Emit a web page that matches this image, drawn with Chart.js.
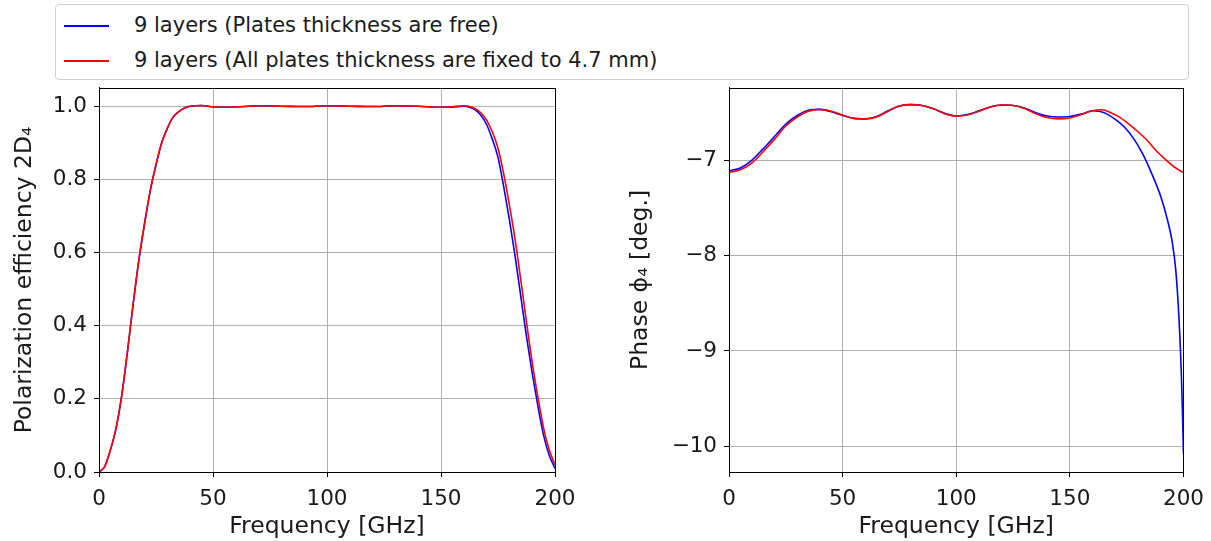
<!DOCTYPE html>
<html lang="en">
<head>
    <meta charset="UTF-8">
    <title>Polarization efficiency and phase</title>
    <style>
        body { margin: 0; background: #fff; font-family: "DejaVu Sans", sans-serif; }
        .wrap { position: relative; width: 1211px; height: 541px; overflow: hidden; }
        .legend { position: absolute; left: 55px; top: 4px; width: 1132px; height: 74px; border: 1px solid #d0d0d0; border-radius: 4px; }
        .legend .row { position: absolute; left: 0; height: 30px; font-size: 21px; color: #1a1a1a; }
        .legend .swatch { position: absolute; left: 8px; top: 14px; width: 45px; height: 0; border-top: 2px solid; }
        .legend .label { position: absolute; left: 78px; top: 2px; white-space: nowrap; }
        .box { position: absolute; top: 68px; height: 473px; }
    </style>
</head>
<body>
<div class="wrap">
    <div class="legend" id="legend"></div>
    <div class="box" style="left:0; width:600px;"><canvas id="eff"></canvas></div>
    <div class="box" style="left:610px; width:604px;"><canvas id="phase"></canvas></div>
</div>

<script src="https://cdn.jsdelivr.net/npm/chart.js@4.4.9/dist/chart.umd.min.js"></script>
<script>
    // series names
    const seriesNames = [
        '9 layers (Plates thickness are free)',
        '9 layers (All plates thickness are fixed to 4.7 mm)'
    ];
    const seriesColors = ['#0000ff', '#ff0000'];

    // polarization efficiency 2D4
    const effFreqFree = [0, 2.5, 5, 7.5, 10, 12.5, 15, 17.5, 20, 22.5, 25, 27.5, 30, 32.5, 35, 37.5, 40, 45, 50, 55, 60, 70, 80, 90, 100, 110, 120, 130, 140, 150, 155, 160, 162.5, 165, 167.5, 170, 172.5, 175, 177.5, 180, 182.5, 185, 187.5, 190, 192.5, 195, 197.5, 200];
    const effFree = [0, 0.015, 0.06, 0.12, 0.21, 0.33, 0.46, 0.58, 0.68, 0.77, 0.84, 0.90, 0.94, 0.97, 0.985, 0.995, 1.0, 1.002, 0.998, 0.997, 0.998, 1.001, 1.0, 0.999, 1.001, 1.0, 0.999, 1.001, 1.0, 0.997, 0.998, 1.0, 0.997, 0.99, 0.975, 0.95, 0.91, 0.86, 0.78, 0.69, 0.59, 0.48, 0.37, 0.27, 0.18, 0.10, 0.045, 0.01];
    const effFreqFixed = effFreqFree;
    const effFixed = [0, 0.015, 0.06, 0.12, 0.21, 0.33, 0.46, 0.58, 0.68, 0.77, 0.84, 0.90, 0.94, 0.97, 0.985, 0.995, 1.0, 1.002, 0.998, 0.997, 0.998, 1.001, 1.0, 0.999, 1.001, 1.0, 0.999, 1.001, 1.0, 0.997, 0.998, 1.001, 0.999, 0.993, 0.982, 0.962, 0.93, 0.885, 0.815, 0.73, 0.635, 0.525, 0.41, 0.30, 0.205, 0.12, 0.06, 0.02];

    // phase phi4 in degrees
    const phaseFreqFree = [0, 5, 10, 15, 20, 25, 30, 35, 40, 45, 50, 55, 60, 65, 70, 75, 80, 85, 90, 95, 100, 105, 110, 115, 120, 125, 130, 135, 140, 145, 150, 155, 160, 163, 166, 170, 174, 178, 182, 185.5, 190, 193, 195, 196.6, 198, 199, 199.5, 200];
    const phaseFree = [-7.11, -7.08, -7.00, -6.88, -6.75, -6.62, -6.53, -6.475, -6.465, -6.49, -6.53, -6.56, -6.565, -6.54, -6.48, -6.43, -6.415, -6.425, -6.46, -6.51, -6.535, -6.52, -6.48, -6.44, -6.42, -6.425, -6.45, -6.50, -6.535, -6.545, -6.54, -6.515, -6.48, -6.485, -6.51, -6.57, -6.65, -6.77, -6.93, -7.11, -7.38, -7.63, -7.85, -8.15, -8.65, -9.2, -9.6, -10.08];
    const phaseFreqFixed = [0, 5, 10, 15, 20, 25, 30, 35, 40, 45, 50, 55, 60, 65, 70, 75, 80, 85, 90, 95, 100, 105, 110, 115, 120, 125, 130, 135, 140, 145, 150, 155, 160, 164, 168, 172, 176, 180, 184, 188, 192, 196, 200];
    const phaseFixed = [-7.125, -7.10, -7.03, -6.91, -6.78, -6.64, -6.545, -6.485, -6.465, -6.485, -6.525, -6.56, -6.565, -6.545, -6.485, -6.43, -6.415, -6.425, -6.46, -6.51, -6.535, -6.525, -6.485, -6.44, -6.42, -6.425, -6.455, -6.51, -6.55, -6.565, -6.555, -6.52, -6.48, -6.47, -6.5, -6.55, -6.62, -6.7, -6.79, -6.9, -6.99, -7.07, -7.13];

    // ticks
    const freqTicks = [0, 50, 100, 150, 200];
    const effTicks = [0, 0.2, 0.4, 0.6, 0.8, 1.0];
    const phaseTicks = [-10, -9, -8, -7];

    // legend (html, spans both plots)
    const legendEl = document.getElementById('legend');
    seriesNames.forEach((name, i) => {
        const row = document.createElement('div');
        row.className = 'row';
        row.style.top = (6 + i * 35) + 'px';
        row.innerHTML = '<div class="swatch" style="border-color:' + seriesColors[i] + '"></div><div class="label"></div>';
        row.querySelector('.label').textContent = name;
        legendEl.appendChild(row);
    });

    const toPoints = (xs, ys) => xs.map((x, i) => ({ x: x, y: ys[i] }));
    const minus = v => String(v).replace('-', '\u2212');

    // box around the plot area
    const frame = {
        id: 'frame',
        afterDraw(chart) {
            const a = chart.chartArea, c = chart.ctx;
            c.save();
            c.strokeStyle = '#000';
            c.lineWidth = 1;
            c.strokeRect(Math.round(a.left) + 0.5, Math.round(a.top) + 0.5, Math.round(a.right - a.left), Math.round(a.bottom - a.top));
            c.restore();
        }
    };

    function makeChart(id, sets, yMin, yMax, yTicks, yFmt, yTitle, yAxisWidth, yTitlePad, rightPad) {
        return new Chart(document.getElementById(id), {
            type: 'line',
            data: {
                datasets: sets.map((pts, i) => ({
                    label: seriesNames[i],
                    data: pts,
                    borderColor: seriesColors[i],
                    borderWidth: 1.6,
                    pointRadius: 0,
                    cubicInterpolationMode: 'monotone',
                    fill: false,
                    order: sets.length - 1 - i   // red drawn over blue, like the original
                }))
            },
            options: {
                responsive: true,
                maintainAspectRatio: false,
                animation: false,
                layout: { padding: { top: 3, right: rightPad, bottom: 0, left: 0 } },
                plugins: { legend: { display: false }, tooltip: { enabled: false } },
                scales: {
                    x: {
                        type: 'linear',
                        min: 0, max: 200,
                        afterBuildTicks: ax => { ax.ticks = freqTicks.map(v => ({ value: v })); },
                        afterFit: ax => { ax.height = 69; },
                        grid: { color: '#b0b0b0', lineWidth: 1, tickColor: '#000', tickLength: 5 },
                        border: { color: '#000', width: 1 },
                        ticks: { color: '#1a1a1a', font: { family: 'DejaVu Sans', size: 21.5 }, padding: 10, maxRotation: 0 },
                        title: { display: true, text: 'Frequency [GHz]', color: '#1a1a1a', font: { family: 'DejaVu Sans', size: 23.5 }, padding: { top: 0, bottom: 0 } }
                    },
                    y: {
                        type: 'linear',
                        min: yMin, max: yMax,
                        afterBuildTicks: ax => { ax.ticks = yTicks.map(v => ({ value: v })); },
                        afterFit: ax => { ax.width = yAxisWidth; },
                        grid: { color: '#b0b0b0', lineWidth: 1, tickColor: '#000', tickLength: 5 },
                        border: { color: '#000', width: 1 },
                        ticks: { color: '#1a1a1a', font: { family: 'DejaVu Sans', size: 21.5 }, padding: 7, callback: yFmt },
                        title: { display: true, text: yTitle, color: '#1a1a1a', font: { family: 'DejaVu Sans', size: 23.5 }, padding: { top: yTitlePad, bottom: 0 } }
                    }
                }
            },
            plugins: [frame]
        });
    }

    makeChart('eff',
        [toPoints(effFreqFree, effFree), toPoints(effFreqFixed, effFixed)],
        0, 1.05, effTicks, v => v.toFixed(1),
        'Polarization efficiency 2D\u2084', 99, 11, 45);

    makeChart('phase',
        [toPoints(phaseFreqFree, phaseFree), toPoints(phaseFreqFixed, phaseFixed)],
        -10.27, -6.24, phaseTicks, v => minus(v),
        'Phase \u03d5\u2084 [deg.]', 119, 17, 25);
</script>
</body>
</html>
